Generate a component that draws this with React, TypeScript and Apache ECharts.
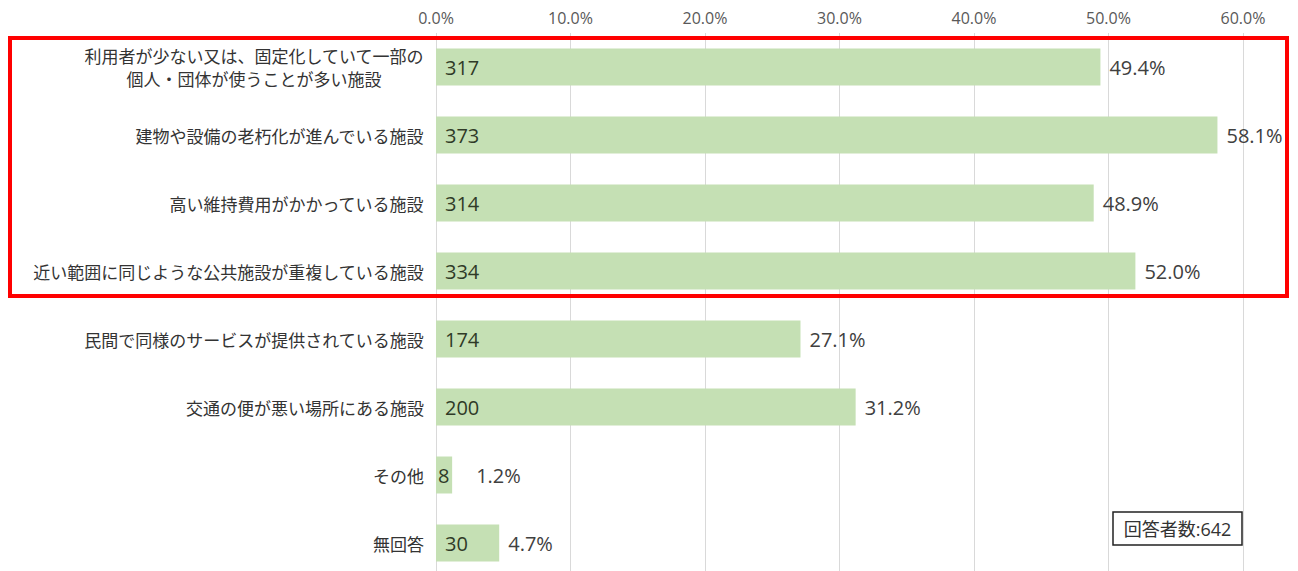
import React, { useEffect, useRef } from "react";
import * as echarts from "echarts";

const categories = [
  "利用者が少ない又は、固定化していて一部の\n個人・団体が使うことが多い施設",
  "建物や設備の老朽化が進んでいる施設",
  "高い維持費用がかかっている施設",
  "近い範囲に同じような公共施設が重複している施設",
  "民間で同様のサービスが提供されている施設",
  "交通の便が悪い場所にある施設",
  "その他",
  "無回答",
];
const counts = [317, 373, 314, 334, 174, 200, 8, 30];
const percents = [49.4, 58.1, 48.9, 52.0, 27.1, 31.2, 1.2, 4.7];
const xTicks = [0, 10, 20, 30, 40, 50, 60];
const respondentsLabel = "回答者数:642";

const FONT = "'Noto Sans CJK JP', 'Noto Sans', sans-serif";
const NUMFONT = "'Open Sans', 'Noto Sans CJK JP', sans-serif";

export default function App() {
  const ref = useRef<HTMLDivElement>(null);
  useEffect(() => {
    if (!ref.current) return;
    const chart = echarts.init(ref.current, null, { renderer: "svg" });
    chart.setOption({
      animation: false,
      textStyle: { fontFamily: FONT },
      grid: { left: 436, right: 55, top: 33, bottom: 23, containLabel: false },
      xAxis: {
        type: "value",
        position: "top",
        min: xTicks[0],
        max: xTicks[xTicks.length - 1],
        interval: 10,
        axisLine: { show: false },
        axisTick: { show: false },
        axisLabel: {
          margin: 7,
          fontSize: 16,
          color: "#595959",
          fontFamily: NUMFONT,
          formatter: (v: number) => v.toFixed(1) + "%",
        },
        splitLine: { show: true, lineStyle: { color: "#d9d9d9", width: 1 } },
      },
      yAxis: {
        type: "category",
        inverse: true,
        data: categories,
        axisLine: { show: false },
        axisTick: { show: false },
        axisLabel: {
          margin: 12,
          fontSize: 17,
          color: "#333333",
          fontFamily: FONT,
          lineHeight: 23,
          formatter: (v: string) =>
            v
              .split("\n")
              .map((l) => "{c|" + l + "}")
              .join("\n"),
          rich: {
            c: {
              align: "center",
              fontSize: 17,
              lineHeight: 23,
              color: "#333333",
              fontFamily: FONT,
            },
          },
        },
      },
      series: [
        {
          type: "bar",
          data: percents.map((v) =>
            v < 3 ? { value: v, label: { distance: 2 } } : v
          ),
          barWidth: 37,
          itemStyle: { color: "#c5e0b4" },
          label: {
            show: true,
            position: "insideLeft",
            distance: 9,
            fontSize: 20,
            color: "#2f3a27",
            fontFamily: NUMFONT,
            formatter: (p: any) => String(counts[p.dataIndex]),
          },
          z: 2,
        },
        {
          type: "bar",
          data: percents.map((v) =>
            v < 3 ? { value: v, label: { distance: 24 } } : v
          ),
          barWidth: 37,
          barGap: "-100%",
          itemStyle: { color: "rgba(0,0,0,0)" },
          label: {
            show: true,
            position: "right",
            distance: 9,
            fontSize: 20,
            color: "#404040",
            fontFamily: NUMFONT,
            formatter: (p: any) => percents[p.dataIndex].toFixed(1) + "%",
          },
          silent: true,
          z: 3,
        },
      ],
      graphic: [
        {
          type: "rect",
          shape: { x: 10, y: 38, width: 1277, height: 258 },
          style: { fill: "none", stroke: "#ff0000", lineWidth: 4 },
          z: 10,
        },
        {
          type: "rect",
          shape: { x: 1113, y: 512, width: 129, height: 33 },
          style: { fill: "#ffffff", stroke: "#222222", lineWidth: 1.5 },
          z: 10,
        },
        {
          type: "text",
          x: 1177.5,
          y: 528.5,
          style: {
            text: respondentsLabel,
            fontSize: 18,
            fill: "#333333",
            fontFamily: NUMFONT,
            align: "center",
            verticalAlign: "middle",
          },
          z: 11,
        },
      ],
    });
    return () => chart.dispose();
  }, []);
  return (
    <div
      ref={ref}
      style={{ position: "absolute", left: 0, top: 0, width: 1298, height: 600 }}
    />
  );
}
